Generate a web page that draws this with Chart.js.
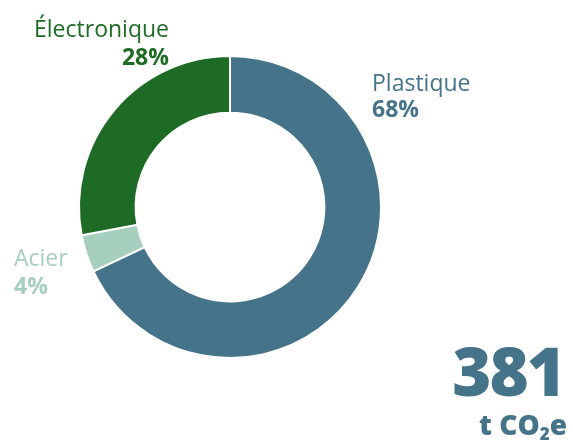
<!DOCTYPE html>
<html><head><meta charset="utf-8">
<script src="https://cdn.jsdelivr.net/npm/chart.js@4"></script>
<style>
html,body{margin:0;padding:0;background:#fff;}
#wrap{position:relative;width:573px;height:441px;overflow:hidden;font-family:"Open Sans",sans-serif;}
canvas{position:absolute;left:0;top:0;}
.lbl{position:absolute;font-size:23px;white-space:nowrap;}
.lbl b{font-weight:700;display:block;}
#num{position:absolute;right:9px;top:330px;color:#45748a;font-weight:800;font-size:67px;line-height:80px;letter-spacing:-2px;}
#unit{position:absolute;right:6px;top:409px;color:#45748a;font-weight:800;font-size:28px;line-height:30px;white-space:nowrap;}
#unit sub{font-size:17px;vertical-align:-5px;line-height:0;}
</style></head>
<body><div id="wrap"><canvas id="c" width="573" height="441"></canvas>
<div id="labels"></div>
<div id="num"></div><div id="unit"></div>
</div>
<script>
const categories = ["Plastique", "Acier", "Électronique"];
const shares = [68, 4, 28];
const colors = ["#45748a", "#a6cfbd", "#1d6b25"];
const totalValue = "381";

new Chart(document.getElementById('c'), {
  type: 'doughnut',
  data: { labels: categories, datasets: [{ data: shares, backgroundColor: colors, borderColor: '#fff', borderWidth: 2 }] },
  options: {
    responsive: false, animation: false, cutout: '62.5%',
    layout: { padding: { left: 78, right: 191, top: 55, bottom: 82 } },
    plugins: { legend: { display: false }, tooltip: { enabled: false } }
  }
});

const pos = [
  {left:372, top:69, lh:26, align:'left'},
  {left:14, top:243, lh:28, align:'left'},
  {right:573-169, top:14, lh:28, align:'right'}
];
const L = document.getElementById('labels');
categories.forEach((c,i)=>{
  const d = document.createElement('div');
  d.className='lbl';
  const p = pos[i];
  d.style.top = p.top+'px';
  d.style.lineHeight = p.lh+'px';
  if (p.left!==undefined) d.style.left=p.left+'px'; else d.style.right=p.right+'px';
  d.style.textAlign=p.align;
  d.style.color=colors[i];
  d.innerHTML = c + '<b>' + shares[i] + '%</b>';
  L.appendChild(d);
});
document.getElementById('num').textContent = totalValue;
document.getElementById('unit').innerHTML = "t CO<sub>2</sub>e";
</script></body></html>
